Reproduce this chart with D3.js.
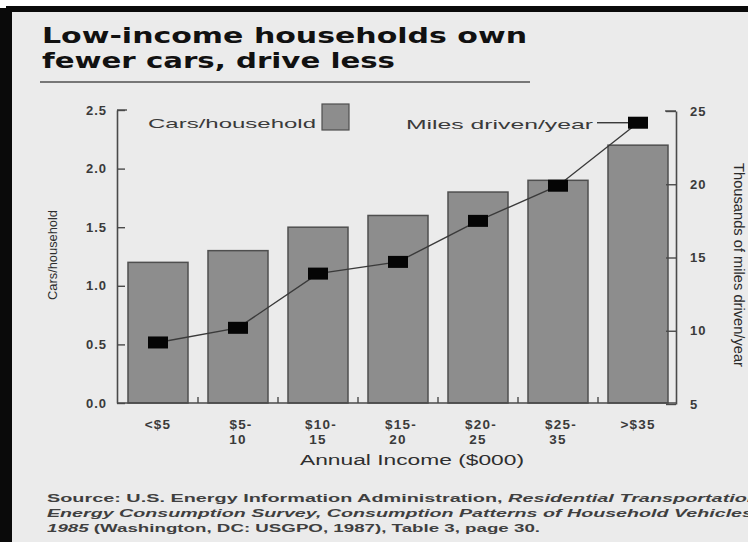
<!DOCTYPE html>
<html>
<head>
<meta charset="utf-8">
<script src="https://cdn.jsdelivr.net/npm/d3@7"></script>
<style>
  html, body { margin: 0; padding: 0; background: #ffffff; }
  svg { display: block; }
</style>
</head>
<body>
<svg id="chart" width="748" height="542"></svg>
<script>
// ---- data ----
const categories = ["<$5", "$5-10", "$10-15", "$15-20", "$20-25", "$25-35", ">$35"];
const categoryLabelLines = [["<$5"], ["$5-", "10"], ["$10-", "15"], ["$15-", "20"], ["$20-", "25"], ["$25-", "35"], [">$35"]];
const carsPerHousehold = [1.2, 1.3, 1.5, 1.6, 1.8, 1.9, 2.2];
const milesPerYear = [9.2, 10.2, 13.9, 14.7, 17.5, 19.9, 24.2];
const leftTicks = [0, 0.5, 1.0, 1.5, 2.0, 2.5];
const rightTicks = [5, 10, 15, 20, 25];
const titleLines = ["Low-income households own", "fewer cars, drive less"];
const sourceLines = [
  [["Source: U.S. Energy Information Administration, ", false], ["Residential Transportation", true]],
  [["Energy Consumption Survey, Consumption Patterns of Household Vehicles", true]],
  [["1985", true], [" (Washington, DC: USGPO, 1987), Table 3, page 30.", false]]
];

const svg = d3.select("#chart");
const axisInk = "#4a4a4a";
const barFill = "#8d8d8d";
const barStroke = "#4f4f4f";

// ---- background & frame ----
svg.append("rect").attr("x", 0).attr("y", 0).attr("width", 748).attr("height", 542).attr("fill", "#ffffff");
svg.append("rect").attr("x", 0).attr("y", 8).attr("width", 748).attr("height", 534).attr("fill", "#ebebeb");
svg.append("rect").attr("x", 6).attr("y", 6).attr("width", 742).attr("height", 6).attr("fill", "#0a0a0a");
svg.append("rect").attr("x", 0).attr("y", 8).attr("width", 12).attr("height", 534).attr("fill", "#0a0a0a");

// ---- title ----
const titleSpecs = [{y: 43, len: 485}, {y: 68, len: 353}];
titleLines.forEach((t, i) => {
  svg.append("text")
    .attr("x", 42).attr("y", titleSpecs[i].y)
    .attr("font-family", "'DejaVu Sans', sans-serif")
    .attr("font-weight", "bold").attr("font-size", 21)
    .attr("fill", "#111")
    .attr("textLength", titleSpecs[i].len)
    .attr("lengthAdjust", "spacingAndGlyphs")
    .text(t);
});
svg.append("line").attr("x1", 40).attr("x2", 530).attr("y1", 82).attr("y2", 82)
  .attr("stroke", "#777").attr("stroke-width", 2);

// ---- scales ----
const x0 = 117, x1 = 676, yBottom = 403, yTop = 110;
const x = d3.scaleBand().domain(categories).range([x0 + 1, x1 + 2]).paddingInner(0.25).paddingOuter(0.125);
const yL = d3.scaleLinear().domain([0, 2.5]).range([yBottom, yTop]);
const yR = d3.scaleLinear().domain([5, 25]).range([yBottom + 1, yTop + 1]);

// ---- bars ----
svg.append("g").selectAll("rect").data(categories).join("rect")
  .attr("x", d => x(d))
  .attr("y", (d, i) => yL(carsPerHousehold[i]))
  .attr("width", x.bandwidth())
  .attr("height", (d, i) => yBottom - yL(carsPerHousehold[i]))
  .attr("fill", barFill)
  .attr("stroke", barStroke)
  .attr("stroke-width", 1.5);

// ---- axes ----
const fontAxis = "'Liberation Sans', Arial, sans-serif";
const gL = svg.append("g").attr("transform", `translate(${x0},0)`)
  .call(d3.axisLeft(yL).tickValues(leftTicks).tickFormat(d3.format(".1f"))
    .tickSizeInner(-8).tickSizeOuter(0).tickPadding(10));
const gR = svg.append("g").attr("transform", `translate(${x1},0)`)
  .call(d3.axisRight(yR).tickValues(rightTicks).tickFormat(d3.format("d"))
    .tickSizeInner(-10).tickSizeOuter(0).tickPadding(14));
[gL, gR].forEach(g => {
  g.select(".domain").attr("stroke", axisInk).attr("stroke-width", 1.6);
  g.selectAll(".tick line").attr("stroke", axisInk).attr("stroke-width", 1.4);
  g.selectAll(".tick text").attr("font-family", fontAxis).attr("font-weight", "bold")
    .attr("font-size", 13).attr("fill", "#3a3a3a").attr("letter-spacing", 1);
});
svg.append("line").attr("x1", x0).attr("x2", x0 + 10).attr("y1", yL(2.5)).attr("y2", yL(2.5))
  .attr("stroke", axisInk).attr("stroke-width", 1.4);
svg.append("line").attr("x1", x1 - 11).attr("x2", x1).attr("y1", yR(25)).attr("y2", yR(25))
  .attr("stroke", axisInk).attr("stroke-width", 1.4);

// bottom baseline
svg.append("line").attr("x1", x0).attr("x2", x1).attr("y1", yBottom).attr("y2", yBottom)
  .attr("stroke", axisInk).attr("stroke-width", 1.6);
const stepGap = x.step() * x.paddingInner() / 2;
svg.append("g").selectAll("line").data(categories.slice(1)).join("line")
  .attr("x1", d => x(d) - stepGap).attr("x2", d => x(d) - stepGap)
  .attr("y1", yBottom).attr("y2", yBottom - 6)
  .attr("stroke", axisInk).attr("stroke-width", 1.4);

// category labels
const catG = svg.append("g");
categories.forEach((c, i) => {
  const cx = x(c) + x.bandwidth() / 2;
  categoryLabelLines[i].forEach((ln, j) => {
    catG.append("text")
      .attr("x", cx + (j === 0 && ln.endsWith("-") ? 3 : 0)).attr("y", 429 + j * 15)
      .attr("text-anchor", "middle")
      .attr("font-family", fontAxis).attr("font-weight", "bold")
      .attr("font-size", 13.5).attr("fill", "#3a3a3a").attr("letter-spacing", 1.2)
      .text(ln);
  });
});

// axis titles
svg.append("text").attr("x", 412).attr("y", 465).attr("text-anchor", "middle")
  .attr("font-family", fontAxis).attr("font-size", 14).attr("fill", "#2e2e2e")
  .attr("textLength", 224).attr("lengthAdjust", "spacingAndGlyphs")
  .text("Annual Income ($000)");
svg.append("text").attr("transform", "translate(57,255) rotate(-90)").attr("text-anchor", "middle")
  .attr("font-family", fontAxis).attr("font-size", 13).attr("fill", "#2e2e2e")
  .attr("textLength", 90).attr("lengthAdjust", "spacingAndGlyphs")
  .text("Cars/household");
svg.append("text").attr("transform", "translate(734,265) rotate(90)").attr("text-anchor", "middle")
  .attr("font-family", fontAxis).attr("font-size", 14).attr("fill", "#2a2a2a")
  .attr("textLength", 204).attr("lengthAdjust", "spacingAndGlyphs")
  .text("Thousands of miles driven/year");

// ---- line series ----
const lineGen = d3.line()
  .x((d, i) => x(categories[i]) + x.bandwidth() / 2)
  .y(d => yR(d));
svg.append("path").datum(milesPerYear).attr("d", lineGen)
  .attr("fill", "none").attr("stroke", "#3a3a3a").attr("stroke-width", 1.4);
const mw = 20, mh = 12;
svg.append("g").selectAll("rect").data(milesPerYear).join("rect")
  .attr("x", (d, i) => x(categories[i]) + x.bandwidth() / 2 - mw / 2)
  .attr("y", d => yR(d) - mh / 2)
  .attr("width", mw).attr("height", mh)
  .attr("fill", "#050505");

// ---- legend ----
svg.append("text").attr("x", 148).attr("y", 128)
  .attr("font-family", fontAxis).attr("font-size", 13.5).attr("fill", "#3a3a3a")
  .attr("textLength", 168).attr("lengthAdjust", "spacingAndGlyphs")
  .text("Cars/household");
svg.append("rect").attr("x", 322).attr("y", 104).attr("width", 27).attr("height", 26)
  .attr("fill", barFill).attr("stroke", barStroke).attr("stroke-width", 1.2);
svg.append("text").attr("x", 406).attr("y", 129)
  .attr("font-family", fontAxis).attr("font-size", 13.5).attr("fill", "#3a3a3a")
  .attr("textLength", 187).attr("lengthAdjust", "spacingAndGlyphs")
  .text("Miles driven/year");
const lastX = x(categories[categories.length - 1]) + x.bandwidth() / 2;
svg.append("line").attr("x1", 597).attr("x2", lastX - mw / 2)
  .attr("y1", yR(milesPerYear[milesPerYear.length - 1])).attr("y2", yR(milesPerYear[milesPerYear.length - 1]))
  .attr("stroke", "#3a3a3a").attr("stroke-width", 1.4);

// ---- source ----
const srcSpecs = [{y: 502, len: 712}, {y: 517, len: 706}, {y: 532, len: 493}];
sourceLines.forEach((segs, i) => {
  const t = svg.append("text").attr("x", 47).attr("y", srcSpecs[i].y)
    .attr("font-family", fontAxis).attr("font-weight", "bold")
    .attr("font-size", 11).attr("fill", "#3f3f3f")
    .attr("textLength", srcSpecs[i].len).attr("lengthAdjust", "spacingAndGlyphs");
  segs.forEach(([s, it]) => {
    t.append("tspan").attr("font-style", it ? "italic" : "normal").text(s);
  });
});
</script>
</body>
</html>
